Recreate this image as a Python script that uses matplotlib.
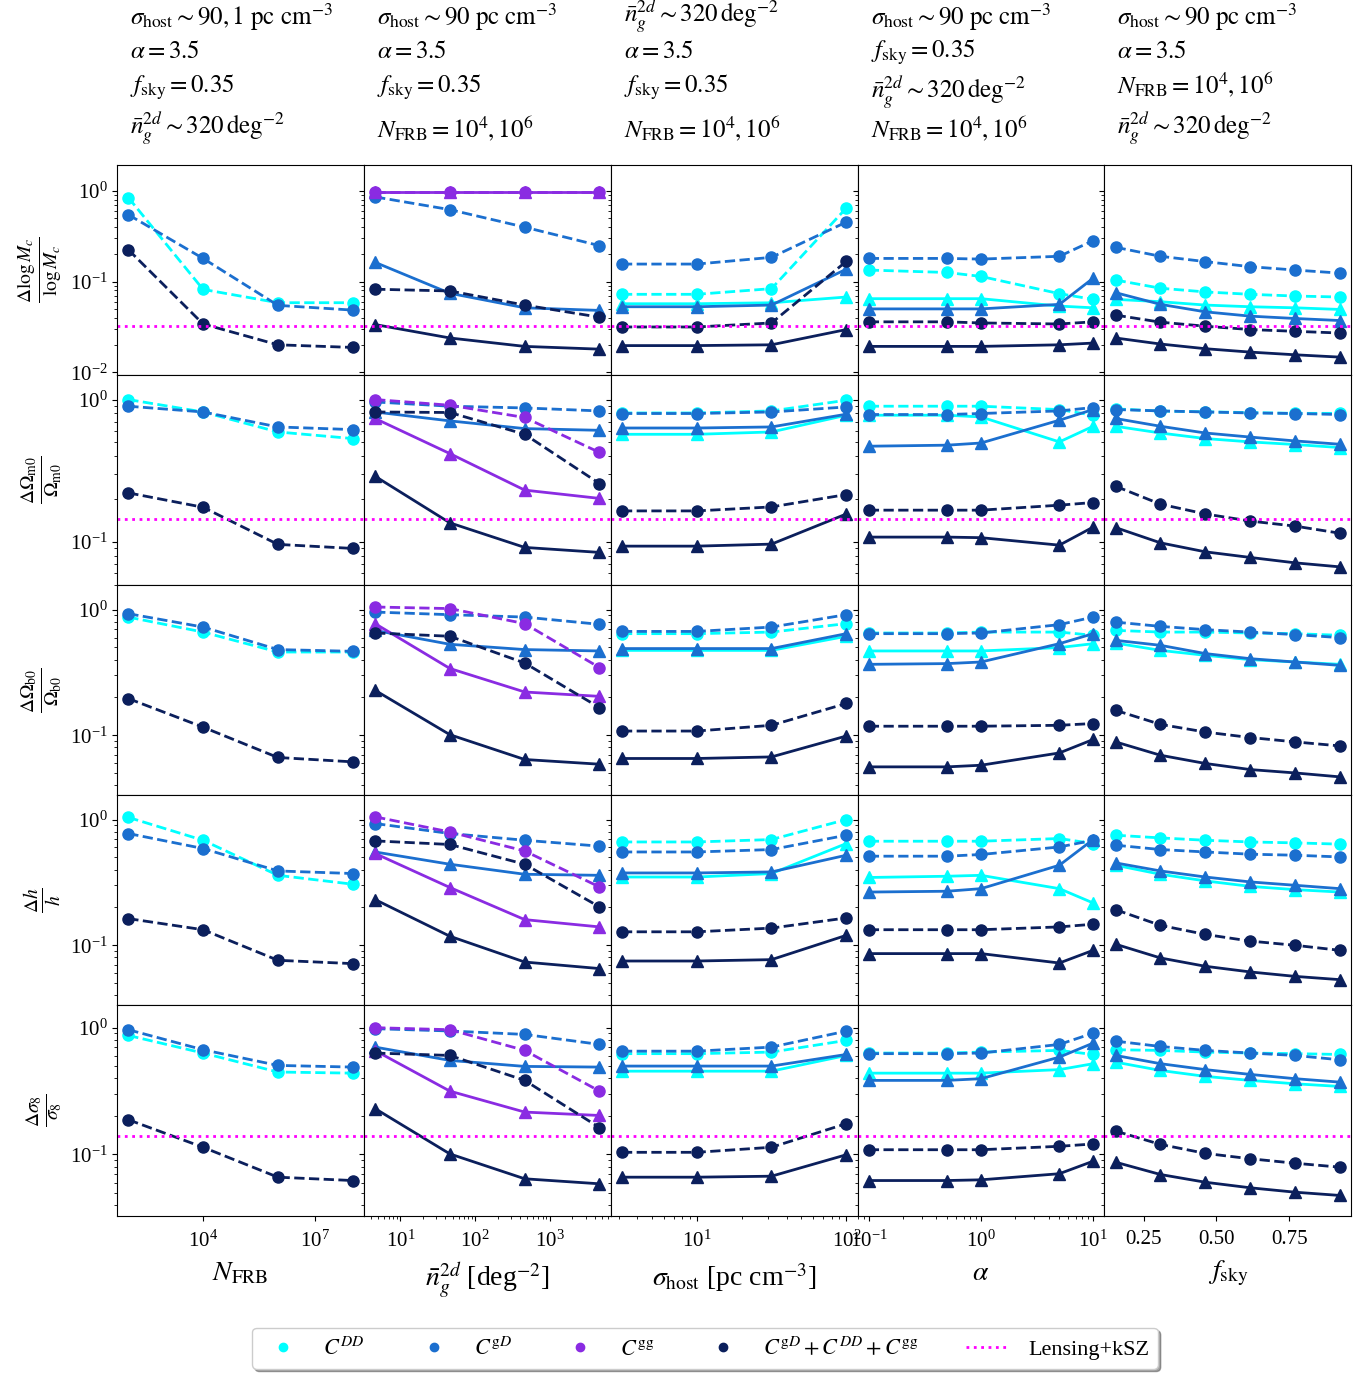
import numpy as np
import matplotlib
matplotlib.use('Agg')
import matplotlib.pyplot as plt
from matplotlib.lines import Line2D

plt.rcParams['font.family'] = 'serif'
plt.rcParams['font.serif'] = ['Liberation Serif', 'DejaVu Serif']
plt.rcParams['mathtext.fontset'] = 'stix'

# x values for each column
n_frb = [1e2, 1e4, 1e6, 1e8]
n_gal = [4.6, 46, 460, 4600]
sigma_host = [3.16, 10, 31.6, 100]
alpha = [0.1, 0.5, 1, 5, 10]
f_sky = [0.154, 0.308, 0.462, 0.616, 0.770, 0.924]

# relative errors, "_4" -> dashed (N_FRB=1e4), "_6" -> solid (N_FRB=1e6)
# row 1: log M_c
MC_NFRB = {'DD_4': [0.845, 0.082, 0.0585, 0.0585], 'gD_4': [0.547, 0.18, 0.0547, 0.0485],
           'all_4': [0.225, 0.0341, 0.0201, 0.0188]}
MC_NG = {'gD_4': [0.858, 0.621, 0.398, 0.249], 'gD_6': [0.163, 0.0743, 0.0514, 0.0481],
         'gg_4': [0.975, 0.975, 0.975, 0.975], 'gg_6': [0.975, 0.975, 0.975, 0.975],
         'all_4': [0.0824, 0.0788, 0.0551, 0.0405], 'all_6': [0.0336, 0.0239, 0.0193, 0.018]}
MC_SIG = {'DD_4': [0.0724, 0.0724, 0.0836, 0.647], 'DD_6': [0.057, 0.057, 0.0584, 0.0676],
          'gD_4': [0.156, 0.156, 0.185, 0.453], 'gD_6': [0.0528, 0.0528, 0.0551, 0.137],
          'all_4': [0.0316, 0.0316, 0.035, 0.167], 'all_6': [0.0197, 0.0197, 0.0201, 0.0296]}
MC_ALPHA = {'DD_4': [0.134, 0.126, 0.114, 0.0736, 0.0637], 'DD_6': [0.0648, 0.0648, 0.0648, 0.0537, 0.0514],
            'gD_4': [0.18, 0.18, 0.177, 0.19, 0.283], 'gD_6': [0.05, 0.05, 0.05, 0.0561, 0.109],
            'all_4': [0.036, 0.036, 0.035, 0.0341, 0.036], 'all_6': [0.0193, 0.0193, 0.0193, 0.0201, 0.021]}
MC_FSKY = {'DD_4': [0.104, 0.0845, 0.0769, 0.0724, 0.0693, 0.0676],
           'DD_6': [0.0637, 0.06, 0.0551, 0.0528, 0.0514, 0.0493],
           'gD_4': [0.239, 0.19, 0.166, 0.146, 0.134, 0.124],
           'gD_6': [0.0755, 0.0561, 0.0464, 0.0416, 0.0392, 0.0372],
           'all_4': [0.0427, 0.0357, 0.0322, 0.0296, 0.0283, 0.0271],
           'all_6': [0.0239, 0.0205, 0.0182, 0.0167, 0.0156, 0.0147]}

# row 2: Omega_m0
OM_NFRB = {'DD_4': [1.0, 0.818, 0.592, 0.532], 'gD_4': [0.898, 0.818, 0.642, 0.615],
           'all_4': [0.221, 0.175, 0.096, 0.0899]}
OM_NG = {'gD_4': [0.962, 0.898, 0.873, 0.832], 'gD_6': [0.818, 0.708, 0.625, 0.608],
         'gg_4': [1.0, 0.912, 0.748, 0.425], 'gg_6': [0.736, 0.417, 0.231, 0.202],
         'all_4': [0.818, 0.811, 0.570, 0.257], 'all_6': [0.289, 0.136, 0.0914, 0.0843]}
OM_SIG = {'DD_4': [0.805, 0.805, 0.832, 0.989], 'DD_6': [0.570, 0.570, 0.592, 0.776],
          'gD_4': [0.798, 0.798, 0.818, 0.887], 'gD_6': [0.631, 0.631, 0.642, 0.789],
          'all_4': [0.165, 0.165, 0.176, 0.215], 'all_6': [0.0933, 0.0933, 0.0964, 0.157]}
OM_ALPHA = {'DD_4': [0.898, 0.898, 0.898, 0.85, 0.776], 'DD_6': [0.776, 0.776, 0.755, 0.504, 0.649],
            'gD_4': [0.785, 0.785, 0.798, 0.832, 0.879], 'gD_6': [0.47, 0.478, 0.495, 0.716, 0.851],
            'all_4': [0.167, 0.167, 0.167, 0.181, 0.189], 'all_6': [0.108, 0.108, 0.107, 0.0948, 0.127]}
OM_FSKY = {'DD_4': [0.86, 0.83, 0.82, 0.81, 0.80, 0.80],
           'DD_6': [0.649, 0.582, 0.532, 0.504, 0.483, 0.460],
           'gD_4': [0.851, 0.832, 0.818, 0.805, 0.798, 0.785],
           'gD_6': [0.736, 0.649, 0.582, 0.545, 0.512, 0.485],
           'all_4': [0.246, 0.184, 0.157, 0.140, 0.129, 0.115],
           'all_6': [0.126, 0.0984, 0.0851, 0.0777, 0.0712, 0.0667]}

# row 3: Omega_b0
OB_NFRB = {'DD_4': [0.873, 0.663, 0.460, 0.460], 'gD_4': [0.929, 0.727, 0.481, 0.466],
           'all_4': [0.196, 0.116, 0.0665, 0.0614]}
OB_NG = {'gD_4': [0.957, 0.912, 0.873, 0.764], 'gD_6': [0.684, 0.530, 0.481, 0.469],
         'gg_4': [1.05, 1.02, 0.774, 0.346], 'gg_6': [0.774, 0.340, 0.221, 0.204],
         'all_4': [0.652, 0.614, 0.376, 0.166], 'all_6': [0.228, 0.101, 0.0641, 0.0588]}
OB_SIG = {'DD_4': [0.644, 0.644, 0.663, 0.774], 'DD_6': [0.474, 0.474, 0.474, 0.614],
          'gD_4': [0.671, 0.671, 0.727, 0.912], 'gD_6': [0.490, 0.490, 0.490, 0.644],
          'all_4': [0.108, 0.108, 0.120, 0.179], 'all_6': [0.0653, 0.0653, 0.0672, 0.0986]}
OB_ALPHA = {'DD_4': [0.652, 0.652, 0.663, 0.663, 0.625], 'DD_6': [0.469, 0.469, 0.469, 0.499, 0.536],
            'gD_4': [0.644, 0.644, 0.652, 0.760, 0.873], 'gD_6': [0.367, 0.372, 0.383, 0.536, 0.644],
            'all_4': [0.118, 0.118, 0.118, 0.120, 0.124], 'all_6': [0.056, 0.056, 0.0577, 0.0723, 0.0925]}
OB_FSKY = {'DD_4': [0.684, 0.663, 0.663, 0.652, 0.644, 0.625],
           'DD_6': [0.542, 0.474, 0.433, 0.400, 0.383, 0.367],
           'gD_4': [0.796, 0.736, 0.693, 0.663, 0.633, 0.599],
           'gD_6': [0.570, 0.520, 0.447, 0.407, 0.383, 0.360],
           'all_4': [0.158, 0.122, 0.106, 0.0959, 0.0885, 0.0822],
           'all_6': [0.0885, 0.0693, 0.0596, 0.0533, 0.0501, 0.0466]}

# row 4: h
H_NFRB = {'DD_4': [1.04, 0.684, 0.360, 0.306], 'gD_4': [0.774, 0.588, 0.390, 0.372],
          'all_4': [0.163, 0.133, 0.076, 0.0715]}
H_NG = {'gD_4': [0.929, 0.774, 0.684, 0.614], 'gD_6': [0.552, 0.441, 0.367, 0.360],
        'gg_4': [1.05, 0.796, 0.562, 0.291], 'gg_6': [0.537, 0.288, 0.160, 0.140],
        'all_4': [0.676, 0.633, 0.441, 0.202], 'all_6': [0.231, 0.118, 0.0736, 0.0653]}
H_SIG = {'DD_4': [0.663, 0.663, 0.693, 1.0], 'DD_6': [0.349, 0.349, 0.372, 0.644],
         'gD_4': [0.552, 0.552, 0.577, 0.750], 'gD_6': [0.376, 0.376, 0.383, 0.520],
         'all_4': [0.128, 0.128, 0.137, 0.165], 'all_6': [0.075, 0.075, 0.0769, 0.120]}
H_ALPHA = {'DD_4': [0.672, 0.672, 0.672, 0.706, 0.644], 'DD_6': [0.346, 0.354, 0.360, 0.282, 0.217],
           'gD_4': [0.511, 0.511, 0.527, 0.605, 0.684], 'gD_6': [0.265, 0.269, 0.282, 0.433, 0.693],
           'all_4': [0.133, 0.133, 0.133, 0.140, 0.147], 'all_6': [0.0859, 0.0859, 0.0859, 0.0723, 0.0912]}
H_FSKY = {'DD_4': [0.750, 0.714, 0.684, 0.663, 0.652, 0.637],
          'DD_6': [0.433, 0.367, 0.325, 0.294, 0.277, 0.265],
          'gD_4': [0.625, 0.577, 0.552, 0.530, 0.520, 0.504],
          'gD_6': [0.452, 0.390, 0.349, 0.319, 0.300, 0.282],
          'all_4': [0.192, 0.144, 0.122, 0.108, 0.100, 0.0912],
          'all_6': [0.102, 0.0793, 0.0681, 0.0614, 0.0566, 0.0533]}

# row 5: sigma_8
S8_NFRB = {'DD_4': [0.869, 0.631, 0.447, 0.438], 'gD_4': [0.964, 0.670, 0.504, 0.489],
           'all_4': [0.188, 0.114, 0.0662, 0.0623]}
S8_NG = {'gD_4': [0.982, 0.942, 0.885, 0.738], 'gD_6': [0.703, 0.552, 0.495, 0.489],
         'gg_4': [1.0, 0.964, 0.662, 0.316], 'gg_6': [0.66, 0.316, 0.216, 0.203],
         'all_4': [0.631, 0.604, 0.384, 0.163], 'all_6': [0.230, 0.101, 0.0643, 0.0587]}
S8_SIG = {'DD_4': [0.624, 0.624, 0.642, 0.794], 'DD_6': [0.454, 0.454, 0.454, 0.604],
          'gD_4': [0.653, 0.653, 0.703, 0.940], 'gD_6': [0.498, 0.498, 0.498, 0.615],
          'all_4': [0.104, 0.104, 0.114, 0.175], 'all_6': [0.0662, 0.0662, 0.0674, 0.0995]}
S8_ALPHA = {'DD_4': [0.631, 0.631, 0.642, 0.662, 0.615], 'DD_6': [0.438, 0.438, 0.438, 0.467, 0.520],
            'gD_4': [0.624, 0.624, 0.631, 0.738, 0.906], 'gD_6': [0.384, 0.384, 0.396, 0.586, 0.756],
            'all_4': [0.109, 0.109, 0.109, 0.116, 0.121], 'all_6': [0.0623, 0.0623, 0.0631, 0.0705, 0.0885]}
S8_FSKY = {'DD_4': [0.670, 0.662, 0.642, 0.631, 0.624, 0.615],
           'DD_6': [0.535, 0.460, 0.413, 0.384, 0.361, 0.344],
           'gD_4': [0.783, 0.711, 0.662, 0.631, 0.604, 0.558],
           'gD_6': [0.604, 0.520, 0.467, 0.428, 0.396, 0.372],
           'all_4': [0.153, 0.120, 0.102, 0.0925, 0.0853, 0.0794],
           'all_6': [0.0869, 0.0695, 0.0604, 0.0546, 0.0504, 0.0475]}

# Lensing+kSZ forecast (None = not shown)
lensing_ksz = [0.0322, 0.144, None, None, 0.141]

ylabels = [r'$\frac{\Delta \log M_c}{\log M_c}$', r'$\frac{\Delta\Omega_{\rm m0}}{\Omega_{\rm m0}}$',
           r'$\frac{\Delta\Omega_{\rm b0}}{\Omega_{\rm b0}}$', r'$\frac{\Delta h}{h}$',
           r'$\frac{\Delta\sigma_8}{\sigma_8}$']
xlabels = [r'$N_{\rm FRB}$', r'$\bar{n}_g^{2d}$ [deg$^{-2}$]', r'$\sigma_{\rm host}$ [pc cm$^{-3}$]',
           r'$\alpha$', r'$f_{\rm sky}$']
ylims = [(0.00936, 1.94), (0.0497, 1.49), (0.0333, 1.57), (0.0333, 1.56), (0.033, 1.50)]

t_sig = r'$\sigma_{\rm host}\sim 90\ {\rm pc\ cm^{-3}}$'
t_alp = r'$\alpha = 3.5$'
t_fs = r'$f_{\rm sky} = 0.35$'
t_ng = r'$\bar{n}_g^{2d}\sim 320\,{\rm deg^{-2}}$'
t_nf = r'$N_{\rm FRB} = 10^4, 10^6$'
col_titles = [[r'$\sigma_{\rm host}\sim 90, 1\ {\rm pc\ cm^{-3}}$', t_alp, t_fs, t_ng],
              [t_sig, t_alp, t_fs, t_nf],
              [t_ng, t_alp, t_fs, t_nf],
              [t_sig, t_fs, t_ng, t_nf],
              [t_sig, t_alp, t_nf, t_ng]]
title_baselines = [25, 58, 93, 137]  # pixels from the top of the figure
ng_baselines = [22, 58, 98, 134]     # the n_g line sits a little differently

colors = {'DD': '#00ffff', 'gD': '#1b6fcf', 'gg': '#8a2be2', 'all': '#0b1f5c'}
order = ['DD_4', 'DD_6', 'gD_4', 'gD_6', 'gg_4', 'gg_6', 'all_4', 'all_6']

xs = [n_frb, n_gal, sigma_host, alpha, f_sky]
panels = [[MC_NFRB, MC_NG, MC_SIG, MC_ALPHA, MC_FSKY],
          [OM_NFRB, OM_NG, OM_SIG, OM_ALPHA, OM_FSKY],
          [OB_NFRB, OB_NG, OB_SIG, OB_ALPHA, OB_FSKY],
          [H_NFRB, H_NG, H_SIG, H_ALPHA, H_FSKY],
          [S8_NFRB, S8_NG, S8_SIG, S8_ALPHA, S8_FSKY]]

fig, axes = plt.subplots(5, 5, figsize=(13.69, 13.73), dpi=100, sharex='col', sharey='row')
fig.subplots_adjust(left=0.0855, right=0.987, top=0.880, bottom=0.1147, wspace=0, hspace=0)

for i in range(5):
    for j in range(5):
        ax = axes[i, j]
        panel = panels[i][j]
        for key in order:
            if key not in panel:
                continue
            probe, n = key.split('_')
            if n == '4':
                ax.plot(xs[j], panel[key], ls='--', marker='o', color=colors[probe], lw=2, ms=8)
            else:
                ax.plot(xs[j], panel[key], ls='-', marker='^', color=colors[probe], lw=2, ms=8)
        if lensing_ksz[i] is not None:
            ax.axhline(lensing_ksz[i], color='magenta', ls=':', lw=2)
        ax.set_yscale('log')
        if j < 4:
            ax.set_xscale('log')
        ax.set_ylim(*ylims[i])
        ax.tick_params(labelsize=15)
        ax.tick_params(axis='x', pad=7)
    axes[i, 0].set_ylabel(ylabels[i], fontsize=20)

axes[0, 4].set_xticks([0.25, 0.5, 0.75])
H = 1373.0
for j in range(5):
    axes[4, j].set_xlabel(xlabels[j], fontsize=20, labelpad=7)
    pos = axes[0, j].get_position()
    for k, line in enumerate(col_titles[j]):
        yb = ng_baselines[k] if line == t_ng else title_baselines[k]
        fig.text(pos.x0 + 0.053 * pos.width, 1 - yb / H, line, ha='left', va='baseline', fontsize=18)

handles = [Line2D([], [], ls='', marker='o', color=colors[p], ms=6) for p in ['DD', 'gD', 'gg', 'all']]
handles.append(Line2D([], [], ls=':', color='magenta', lw=2))
labels = [r'$C^{DD}$', r'$C^{{\rm g}D}$', r'$C^{\rm gg}$', r'$C^{{\rm g}D}+C^{DD}+C^{\rm gg}$', 'Lensing+kSZ']
fig.legend(handles, labels, loc='lower center', bbox_to_anchor=(0.515, -0.005), ncol=5, fontsize=16,
           shadow=True, fancybox=True, columnspacing=2.1, handlelength=2.0)

fig.savefig('out.png', dpi=100)
